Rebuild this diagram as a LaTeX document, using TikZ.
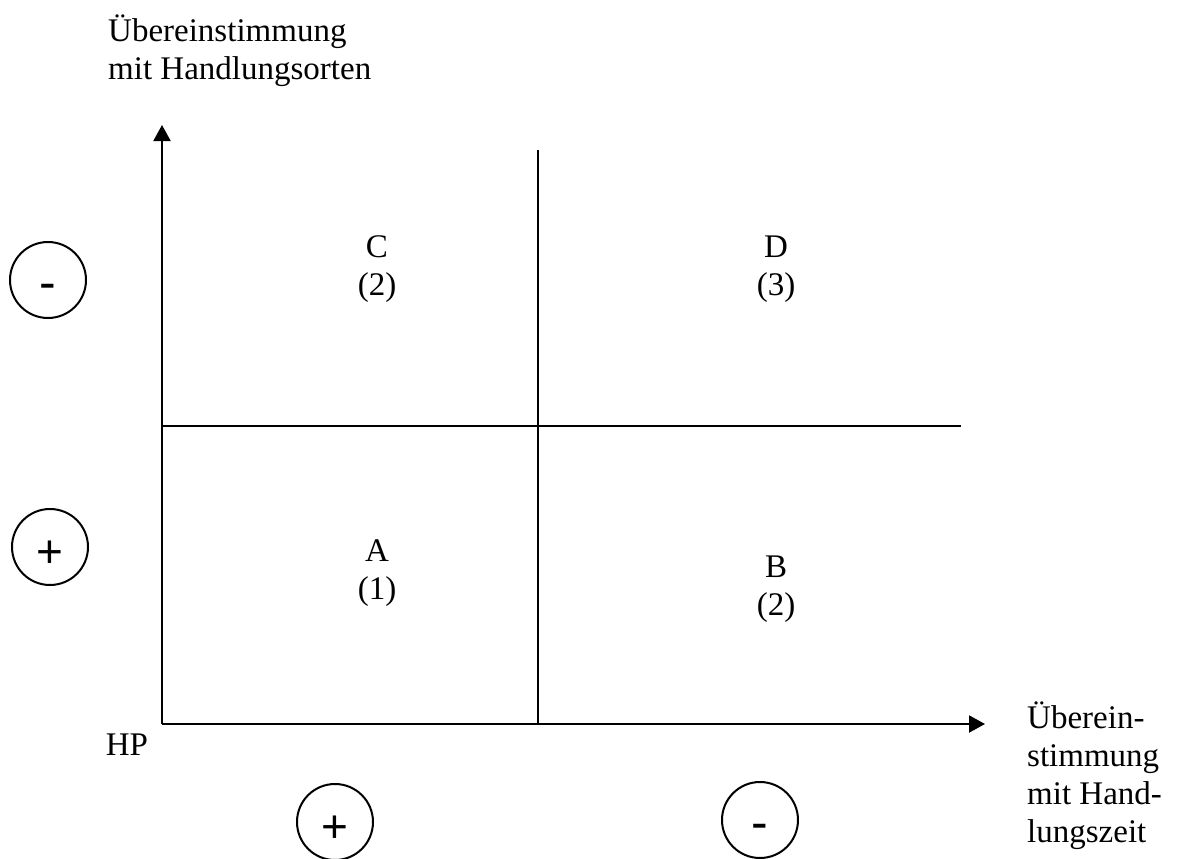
\documentclass[tikz,border=0pt]{standalone}
\usepackage{fontspec}
\setmainfont{Liberation Serif}
\newfontfamily\signfont{Liberation Sans}
\usetikzlibrary{arrows.meta}
\begin{document}
\begin{tikzpicture}[x=1pt,y=-1pt,
  axis/.style={line width=2pt,-{Triangle[length=16pt,width=17pt]}},
  grid/.style={line width=2pt},
  lbl/.style={inner sep=0pt,font=\fontsize{33}{38}\selectfont},
  quad/.style={lbl,align=center,anchor=base},
  sign/.style={circle,draw,line width=2pt,minimum size=76pt,inner sep=0pt,font=\signfont\fontsize{46}{46}\selectfont},
  minussign/.style={sign,font=\signfont\fontsize{50}{50}\selectfont,text height=38pt,text depth=0pt},
  plussign/.style={sign,text height=40pt,text depth=0pt}]
\useasboundingbox (0,0) rectangle (1181,859);
\coordinate (O) at (162,724);
\coordinate (ytip) at (162,125);
\coordinate (xtip) at (985,724);
\coordinate (vtop) at (538,150);
\coordinate (vbot) at (538,724);
\coordinate (hl) at (162,426);
\coordinate (hr) at (961,426);
\draw[axis] (O) -- (ytip);
\draw[axis] (O) -- (xtip);
\draw[grid] (vtop) -- (vbot);
\draw[grid] (hl) -- (hr);
\node[lbl,anchor=base west,align=left] (ylab) at (108,80) {Übereinstimmung\\mit Handlungsorten};
\node[lbl,anchor=base west,align=left] (xlab) at (1027,842) {Überein-\\stimmung\\mit Hand-\\lungszeit};
\node[lbl,anchor=base] (hp) at (127,755) {HP};
\node[quad] (C) at (377,295) {C\\(2)};
\node[quad] (D) at (776,295) {D\\(3)};
\node[quad] (A) at (377,599) {A\\(1)};
\node[quad] (B) at (776,615) {B\\(2)};
\node[minussign] (sm) at (48,280) {-};
\node[plussign] (sp) at (50,547) {+};
\node[plussign] (bp) at (335,822) {+};
\node[minussign] (bm) at (760,820) {-};
\end{tikzpicture}
\end{document}
